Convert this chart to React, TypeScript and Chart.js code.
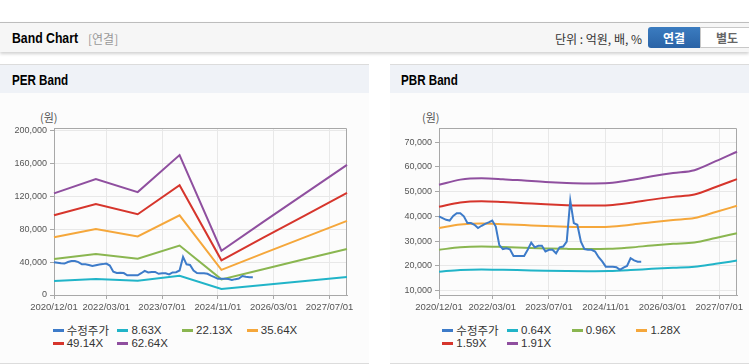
import React, { useEffect, useRef } from 'react';
import { Chart, registerables } from 'chart.js';

Chart.register(...registerables);

// ---------- DATA ----------
// monthly categories 2020/12/01 .. 2027/12/01
const CATEGORIES: string[] = [];
for (let k = 0; k < 85; k++) {
  const m = 11 + k;
  const y = 2020 + Math.floor(m / 12);
  const mm = (m % 12) + 1;
  CATEGORIES.push(`${y}/${String(mm).padStart(2, '0')}/01`);
}

const TICK_LABELS = ['2020/12/01', '2022/03/01', '2023/07/01', '2024/11/01', '2026/03/01', '2027/07/01'];

// adjusted share price (monthly, from 2020/12)
const PRICE = [
  40000, 39300, 38600, 38300, 40200, 41300, 41300, 40000, 37300, 37300, 36600, 35300,
  36200, 37000, 37600, 38300, 35900, 28400, 26800, 27100, 26700, 24000, 24000, 24000,
  24000, 26500, 29400, 27500, 28100, 28100, 25800, 26500, 26500, 25100, 27500, 27800,
  29800, 46400, 37300, 36600, 29800, 26800, 26500, 26500, 25800, 23500, 21800, 19700,
  19700, 19700, 19500, 18400, 19300, 20000, 23100, 22200, 21700, 21700,
];

// PER band (annual points)
const PER_DATES = ['2020/12/01', '2021/12/01', '2022/12/01', '2023/12/01', '2024/12/01', '2025/12/01', '2026/12/01', '2027/12/01'];
const PER_8_63 = [17040, 19460, 17260, 23470, 7420, 12250, 17040, 21830];
const PER_22_13 = [43700, 49900, 44260, 60190, 19030, 31420, 43710, 55990];
const PER_35_64 = [70390, 80370, 71280, 96940, 30650, 50610, 70390, 90170];
const PER_49_14 = [97050, 110810, 98280, 133660, 42260, 69780, 97050, 124320];
const PER_62_64 = [123710, 141250, 125280, 170380, 53870, 88950, 123710, 158480];
const PER_NAMES = ['수정주가', '8.63X', '22.13X', '35.64X', '49.14X', '62.64X'];
const PER_Y_TICKS = [0, 40000, 80000, 120000, 160000, 200000];

// PBR band (half-year points)
const PBR_DATES = [
  '2020/12/01', '2021/06/01', '2021/12/01', '2022/06/01', '2022/12/01', '2023/06/01', '2023/12/01', '2024/06/01',
  '2024/12/01', '2025/06/01', '2025/12/01', '2026/06/01', '2026/12/01', '2027/06/01', '2027/12/01',
];
const PBR_0_64 = [17660, 18370, 18560, 18430, 18240, 18050, 17920, 17860, 17920, 18300, 18820, 19260, 19650, 20860, 22140];
const PBR_0_96 = [26500, 27550, 27840, 27650, 27360, 27070, 26880, 26780, 26880, 27460, 28220, 28900, 29470, 31300, 33220];
const PBR_1_28 = [35330, 36740, 37120, 36860, 36480, 36100, 35840, 35710, 35840, 36610, 37630, 38530, 39300, 41730, 44290];
const PBR_1_59 = [43880, 45630, 46110, 45790, 45320, 44840, 44520, 44360, 44520, 45470, 46750, 47860, 48810, 51830, 55010];
const PBR_1_91 = [52720, 54820, 55390, 55010, 54440, 53860, 53480, 53290, 53480, 54630, 56150, 57490, 58640, 62270, 66090];
const PBR_NAMES = ['수정주가', '0.64X', '0.96X', '1.28X', '1.59X', '1.91X'];
const PBR_Y_TICKS = [10000, 20000, 30000, 40000, 50000, 60000, 70000];

const COLORS = ['#3d7bc9', '#21b4c8', '#8ab650', '#f5a73b', '#d6352c', '#8f4f9f'];

// ---------- helpers ----------
function placeOnMonths(dates: string[], values: number[]): (number | null)[] {
  const out: (number | null)[] = CATEGORIES.map(() => null);
  dates.forEach((d, i) => {
    const idx = CATEGORIES.indexOf(d);
    if (idx >= 0) out[idx] = values[i];
  });
  return out;
}

const TICK_FONT = '"Liberation Sans", Arial, sans-serif';
const UI_FONT = '"Noto Sans CJK KR", "Liberation Sans", sans-serif';
const TITLE_FONT = '"Liberation Sans", Arial, sans-serif';
const LEGEND_FONT = '"Liberation Sans", "Noto Sans CJK KR", sans-serif';

const framePlugin = {
  id: 'frame',
  beforeDatasetsDraw(chart: any) {
    const { ctx, chartArea } = chart;
    const l = Math.round(chartArea.left) + 0.5;
    const t = Math.round(chartArea.top) + 0.5;
    const r = Math.round(chartArea.right) - 0.5;
    const b = Math.round(chartArea.bottom) + 0.5;
    ctx.save();
    ctx.strokeStyle = '#a8a8a8';
    ctx.lineWidth = 1;
    ctx.beginPath();
    ctx.moveTo(l, t);
    ctx.lineTo(r, t);
    ctx.lineTo(r, b);
    ctx.stroke();
    ctx.restore();
  },
};

interface ChartSpec {
  x: number;
  y: number;
  w: number;
  h: number;
  yAxisWidth: number;
  padTop: number;
  padRight: number;
  xAxisHeight: number;
  yMin: number;
  yMax: number;
  yTicks: number[];
  names: string[];
  bandDates: string[];
  bands: number[][];
  smooth: boolean;
}

function BandCanvas({ spec }: { spec: ChartSpec }) {
  const ref = useRef<HTMLCanvasElement>(null);
  useEffect(() => {
    const datasets: any[] = [
      {
        label: spec.names[0],
        data: PRICE,
        borderColor: COLORS[0],
        borderWidth: 2,
        pointRadius: 0,
        spanGaps: false,
      },
      ...spec.bands.map((vals, i) => ({
        label: spec.names[i + 1],
        data: placeOnMonths(spec.bandDates, vals),
        borderColor: COLORS[i + 1],
        borderWidth: 2,
        pointRadius: 0,
        spanGaps: true,
        cubicInterpolationMode: spec.smooth ? 'monotone' : 'default',
      })),
    ];
    const chart = new Chart(ref.current as HTMLCanvasElement, {
      type: 'line',
      data: { labels: CATEGORIES, datasets },
      options: {
        responsive: false,
        animation: false,
        devicePixelRatio: 1,
        events: [],
        layout: { padding: { top: spec.padTop, right: spec.padRight, left: 0, bottom: 0 } },
        plugins: { legend: { display: false }, tooltip: { enabled: false }, title: { display: false } },
        elements: { point: { radius: 0 }, line: { tension: 0, borderWidth: 2 } },
        scales: {
          x: {
            type: 'category',
            offset: false,
            grid: { color: '#e8e8e8', tickColor: '#a8a8a8', tickLength: 4 },
            border: { color: '#a8a8a8' },
            ticks: {
              autoSkip: false,
              maxRotation: 0,
              minRotation: 0,
              padding: 3,
              color: '#555',
              font: { family: TICK_FONT, size: 9.5 },
              callback: (_v: any, i: number) => (TICK_LABELS.includes(CATEGORIES[i]) ? CATEGORIES[i] : null),
            },
            afterFit: (s: any) => {
              s.height = spec.xAxisHeight;
            },
          },
          y: {
            min: spec.yMin,
            max: spec.yMax,
            grid: { color: '#e8e8e8', tickColor: '#a8a8a8', tickLength: 4 },
            border: { color: '#a8a8a8' },
            ticks: {
              padding: 3,
              color: '#555',
              font: { family: TICK_FONT, size: 9 },
              callback: (v: any) => Number(v).toLocaleString('en-US'),
            },
            afterBuildTicks: (s: any) => {
              s.ticks = spec.yTicks.map((v) => ({ value: v }));
            },
            afterFit: (s: any) => {
              s.width = spec.yAxisWidth;
            },
          },
        },
      } as any,
      plugins: [framePlugin],
    });
    return () => chart.destroy();
  }, []);
  return (
    <canvas
      ref={ref}
      width={spec.w}
      height={spec.h}
      style={{ position: 'absolute', left: spec.x, top: spec.y, width: spec.w, height: spec.h }}
    />
  );
}

function Legend({ left, names }: { left: number; names: string[] }) {
  return (
    <>
      {names.map((n, i) => {
        const col = i % 4;
        const row = Math.floor(i / 4);
        return (
          <div
            key={n}
            style={{
              position: 'absolute',
              left: left + col * 64.7,
              top: 322 + row * 13.3,
              height: 16,
              display: 'flex',
              alignItems: 'center',
              fontFamily: LEGEND_FONT,
              fontSize: 11.5,
              color: '#333',
              whiteSpace: 'nowrap',
            }}
          >
            <span style={{ display: 'inline-block', width: 11, height: 3, background: COLORS[i], marginRight: 3 }} />
            <span>{n}</span>
          </div>
        );
      })}
    </>
  );
}

function BoldTitle({ text, left, scale, lineHeight }: { text: string; left: number; scale: number; lineHeight: number }) {
  return (
    <span
      style={{
        position: 'absolute',
        left,
        top: 0,
        lineHeight: `${lineHeight}px`,
        fontFamily: TITLE_FONT,
        fontWeight: 700,
        fontSize: 14,
        color: '#000',
        whiteSpace: 'nowrap',
        transform: `scaleX(${scale})`,
        transformOrigin: 'left center',
      }}
    >
      {text}
    </span>
  );
}

function Panel({ left, width, title, titleLeft }: { left: number; width: number; title: string; titleLeft: number }) {
  return (
    <div
      style={{
        position: 'absolute',
        left,
        top: 64,
        width,
        height: 298,
        borderTop: '1px solid #dcdcdc',
        borderBottom: '1px solid #dcdcdc',
        background: '#fcfcfc',
      }}
    >
      <div style={{ position: 'absolute', left: 0, top: 0, width, height: 28, background: '#eff2f7' }}>
        <BoldTitle text={title} left={titleLeft} scale={0.83} lineHeight={30} />
      </div>
    </div>
  );
}

const PER_SPEC: ChartSpec = {
  x: 0,
  y: 96,
  w: 369,
  h: 220,
  yAxisWidth: 54,
  padTop: 32,
  padRight: 22,
  xAxisHeight: 21,
  yMin: 0,
  yMax: 203300,
  yTicks: PER_Y_TICKS,
  names: PER_NAMES,
  bandDates: PER_DATES,
  bands: [PER_8_63, PER_22_13, PER_35_64, PER_49_14, PER_62_64],
  smooth: false,
};

const PBR_SPEC: ChartSpec = {
  x: 390,
  y: 96,
  w: 359,
  h: 220,
  yAxisWidth: 49,
  padTop: 32,
  padRight: 12,
  xAxisHeight: 21,
  yMin: 8260,
  yMax: 75660,
  yTicks: PBR_Y_TICKS,
  names: PBR_NAMES,
  bandDates: PBR_DATES,
  bands: [PBR_0_64, PBR_0_96, PBR_1_28, PBR_1_59, PBR_1_91],
  smooth: true,
};

export default function App() {
  return (
    <div
      style={{
        position: 'absolute',
        left: 0,
        top: 0,
        width: 749,
        height: 364,
        overflow: 'hidden',
        background: '#fff',
      }}
    >
      {/* header */}
      <div
        style={{
          position: 'absolute',
          left: 0,
          top: 22,
          width: 749,
          height: 29,
          background: '#f6f6f6',
          borderTop: '1px solid #bdbdbd',
          boxShadow: '0 2px 3px rgba(0,0,0,0.18)',
        }}
      >
        <BoldTitle text="Band Chart" left={12} scale={0.875} lineHeight={31} />
        <span
          style={{
            position: 'absolute',
            left: 88,
            top: 0,
            lineHeight: '31px',
            fontFamily: UI_FONT,
            fontSize: 12,
            color: '#999',
          }}
        >
          [연결]
        </span>
        <span
          style={{
            position: 'absolute',
            right: 749 - 642,
            top: 0,
            lineHeight: '31px',
            fontFamily: UI_FONT,
            fontSize: 12,
            color: '#333',
            whiteSpace: 'nowrap',
          }}
        >
          단위 : 억원, 배, %
        </span>
        <div
          style={{
            position: 'absolute',
            left: 648,
            top: 4,
            width: 52,
            height: 21,
            background: 'linear-gradient(#3b7cc0, #2a63a6)',
            borderRadius: '3px 0 0 3px',
            color: '#fff',
            fontFamily: UI_FONT,
            fontWeight: 700,
            fontSize: 12,
            lineHeight: '21px',
            textAlign: 'center',
          }}
        >
          연결
        </div>
        <div
          style={{
            position: 'absolute',
            left: 700,
            top: 4,
            width: 52,
            height: 19,
            background: '#fff',
            border: '1px solid #c8c8c8',
            color: '#666',
            fontFamily: UI_FONT,
            fontWeight: 700,
            fontSize: 12,
            lineHeight: '19px',
            textAlign: 'center',
          }}
        >
          별도
        </div>
      </div>

      <Panel left={0} width={369} title="PER Band" titleLeft={12} />
      <Panel left={390} width={359} title="PBR Band" titleLeft={11} />

      <span style={{ position: 'absolute', left: 40, top: 109, fontFamily: UI_FONT, fontSize: 11, color: '#555' }}>(원)</span>
      <span style={{ position: 'absolute', left: 422, top: 109, fontFamily: UI_FONT, fontSize: 11, color: '#555' }}>(원)</span>

      <BandCanvas spec={PER_SPEC} />
      <BandCanvas spec={PBR_SPEC} />

      <Legend left={52.7} names={PER_NAMES} />
      <Legend left={442.3} names={PBR_NAMES} />
    </div>
  );
}
